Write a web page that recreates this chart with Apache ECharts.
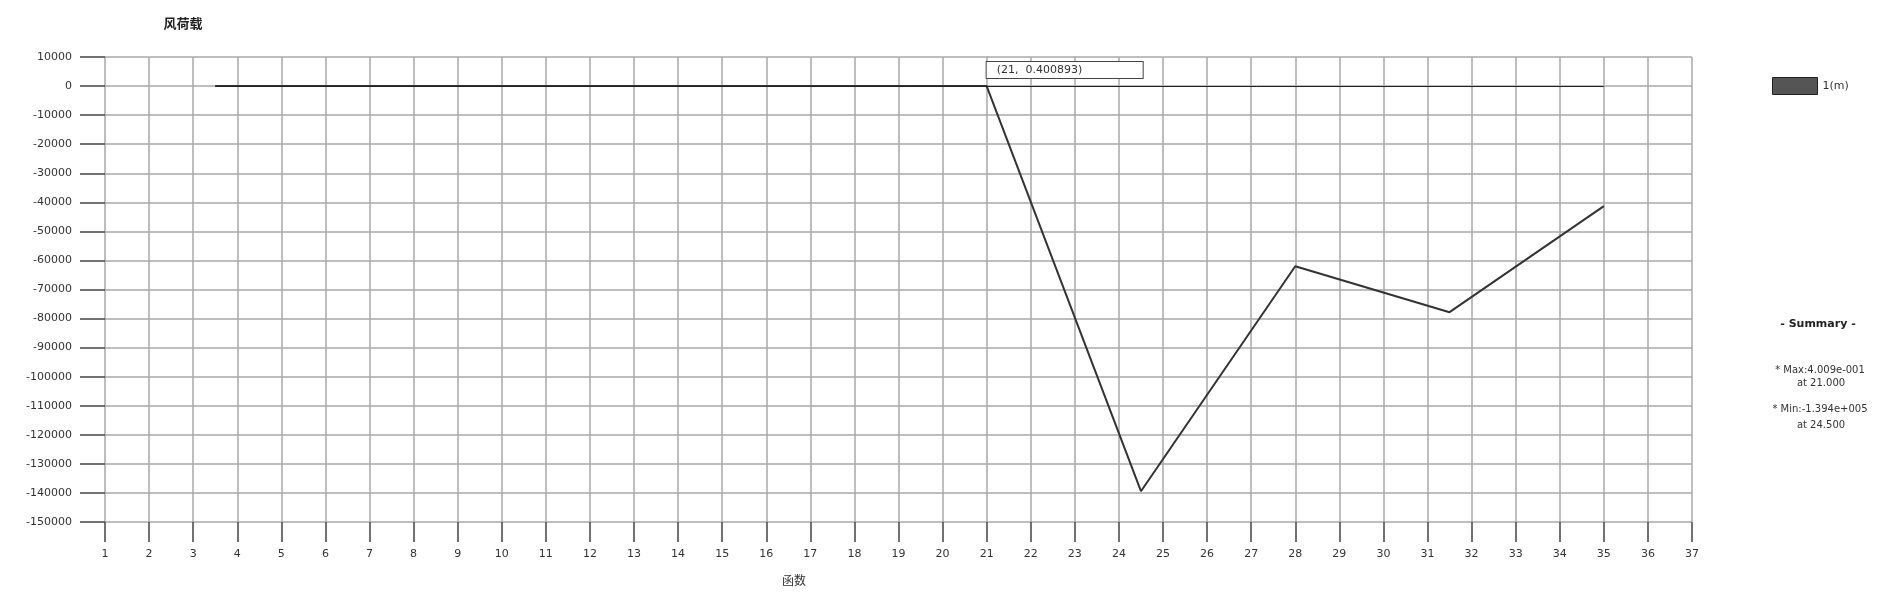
<!DOCTYPE html>
<html>
<head>
<meta charset="utf-8">
<script src="https://cdn.jsdelivr.net/npm/echarts@6/dist/echarts.min.js"></script>
<style>html,body{margin:0;padding:0;background:#fff}#c{width:1890px;height:602px}</style>
</head>
<body>
<div id="c"></div>
<script>
const xValues = [3.5, 7, 10.5, 14, 17.5, 21, 24.5, 28, 31.5, 35];
const yValues = [0, 0, 0, 0, 0, 0.400893, -139400, -62000, -77800, -41300];
const seriesName = '1(m)';
const titleText = '风荷载';
const xAxisName = '函数';
const annotationText = '(21,  0.400893)';
const summaryLines = ['* Max:4.009e-001', 'at 21.000', '* Min:-1.394e+005', 'at 24.500'];

const chart = echarts.init(document.getElementById('c'));
const font = 'DejaVu Sans';
const pairs = xValues.map((x, i) => [x, yValues[i]]);

chart.setOption({
  animation: false,
  backgroundColor: '#fff',
  title: {
    text: titleText, left: 178, top: 12, textAlign: 'center',
    textStyle: {fontFamily: 'Noto Sans CJK SC', fontSize: 13, fontWeight: 'bold', color: '#222'}
  },
  legend: {
    left: 1767, top: 72, itemWidth: 45, itemHeight: 17, itemGap: 8,
    textStyle: {fontFamily: font, fontSize: 11, color: '#333'},
    data: [{name: seriesName, icon: 'rect', itemStyle: {color: '#555', borderColor: '#222', borderWidth: 1}}]
  },
  grid: {left: 105, right: 198, top: 57, bottom: 80, containLabel: false},
  xAxis: {
    type: 'value', min: 1, max: 37, interval: 1, position: 'bottom',
    axisLine: {show: false, onZero: false},
    axisTick: {show: true, length: 20, lineStyle: {color: '#444', width: 1.5}},
    axisLabel: {margin: 27, fontFamily: font, fontSize: 11, color: '#333'},
    splitLine: {show: true, lineStyle: {color: '#a8a8a8', width: 1.5}}
  },
  yAxis: {
    type: 'value', min: -150000, max: 10000, interval: 10000,
    axisLine: {show: false, onZero: false},
    axisTick: {show: true, length: 25, lineStyle: {color: '#444', width: 1.5}},
    axisLabel: {margin: 33, fontFamily: font, fontSize: 11, color: '#333', formatter: v => String(v)},
    splitLine: {show: true, lineStyle: {color: '#a8a8a8', width: 1.5}}
  },
  series: [{
    name: seriesName, type: 'line', data: pairs, symbol: 'none',
    lineStyle: {color: '#333', width: 2}, itemStyle: {color: '#555'},
    markLine: {
      silent: true, symbol: 'none', label: {show: false},
      lineStyle: {color: '#222', width: 1, type: 'solid'},
      data: [[{coord: [xValues[0], 0]}, {coord: [xValues[xValues.length - 1], 0]}]]
    },
    markPoint: {
      symbol: 'rect', symbolSize: 0, silent: true,
      data: [{coord: [21, 0.400893], value: 0}],
      label: {
        show: true, position: [0, -24], formatter: annotationText,
        fontFamily: font, fontSize: 11, color: '#333', lineHeight: 14,
        backgroundColor: '#fff', borderColor: '#444', borderWidth: 1,
        padding: [1, 8, 1, 10], width: 138, align: 'left'
      }
    }
  }],
  graphic: [
    {type: 'text', left: 798 - 16, top: 574, style: {text: xAxisName, font: '12px "Noto Sans CJK SC"', fill: '#333'}},
    {type: 'text', x: 1818, y: 324, style: {text: '- Summary -', font: 'bold 11px "DejaVu Sans"', fill: '#222', textAlign: 'center', textVerticalAlign: 'middle'}},
    {type: 'text', x: 1820, y: 370, style: {text: summaryLines[0], font: '10px "DejaVu Sans"', fill: '#333', textAlign: 'center', textVerticalAlign: 'middle'}},
    {type: 'text', x: 1821, y: 383, style: {text: summaryLines[1], font: '10px "DejaVu Sans"', fill: '#333', textAlign: 'center', textVerticalAlign: 'middle'}},
    {type: 'text', x: 1820, y: 409, style: {text: summaryLines[2], font: '10px "DejaVu Sans"', fill: '#333', textAlign: 'center', textVerticalAlign: 'middle'}},
    {type: 'text', x: 1821, y: 425, style: {text: summaryLines[3], font: '10px "DejaVu Sans"', fill: '#333', textAlign: 'center', textVerticalAlign: 'middle'}}
  ]
});
</script>
</body>
</html>
